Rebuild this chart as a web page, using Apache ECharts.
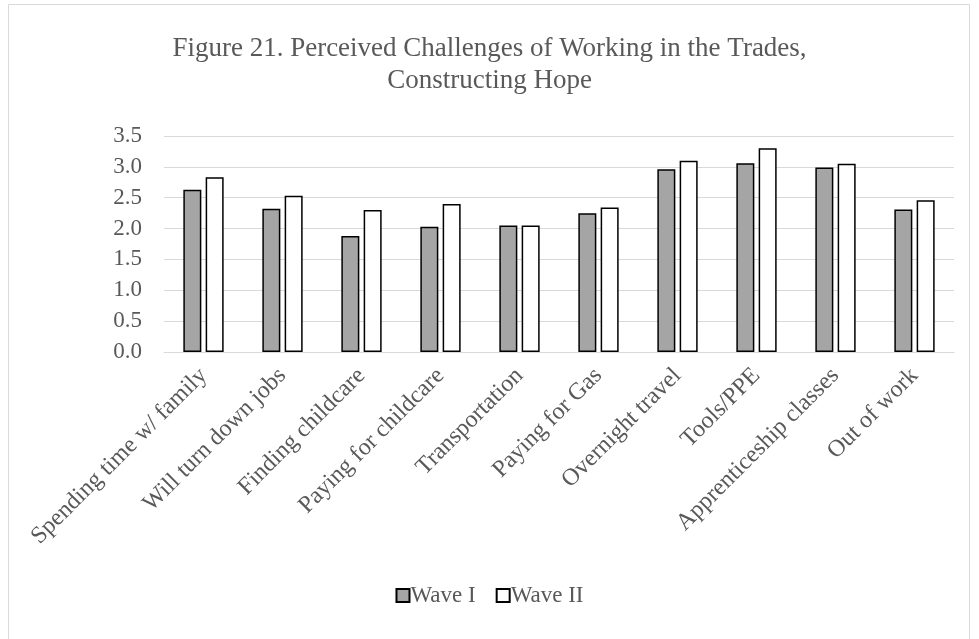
<!DOCTYPE html>
<html>
<head>
<meta charset="utf-8">
<title>Figure 21</title>
<script src="https://cdn.jsdelivr.net/npm/echarts@6/dist/echarts.min.js"></script>
<style>
  html, body { margin: 0; padding: 0; background: #fff; }
  #main { width: 979px; height: 639px; }
</style>
</head>
<body>
<div id="main"></div>
<script>
// categories along x
var categories = ['Spending time w/ family', 'Will turn down jobs', 'Finding childcare',
    'Paying for childcare', 'Transportation', 'Paying for Gas', 'Overnight travel',
    'Tools/PPE', 'Apprenticeship classes', 'Out of work'];
// mean ratings
var waveOne = [2.63, 2.32, 1.88, 2.03, 2.05, 2.25, 2.96, 3.06, 2.99, 2.31];
var waveTwo = [2.83, 2.53, 2.30, 2.40, 2.05, 2.34, 3.10, 3.30, 3.05, 2.46];
var seriesNames = ['Wave I', 'Wave II'];

var serif = '"Liberation Serif", "DejaVu Serif", serif';
var chart = echarts.init(document.getElementById('main'));

chart.setOption({
    animation: false,
    backgroundColor: '#fff',
    title: {
        text: 'Figure 21. Perceived Challenges of Working in the Trades,\nConstructing Hope',
        left: 'center',
        top: 28,
        textStyle: {
            fontFamily: serif,
            fontWeight: 'normal',
            fontSize: 27,
            color: '#595959',
            lineHeight: 32
        }
    },
    graphic: [{
        // light frame round the chart area
        type: 'rect',
        shape: {x: 8.5, y: 4.5, width: 961, height: 700},
        style: {fill: 'none', stroke: '#d9d9d9', lineWidth: 1},
        silent: true
    }],
    legend: {
        data: seriesNames,
        bottom: 27,
        left: 'center',
        itemWidth: 13,
        itemHeight: 13,
        itemGap: 20,
        icon: 'rect',
        textStyle: {fontFamily: serif, fontSize: 23, color: '#595959', padding: [0, 0, 0, -4]}
    },
    grid: {left: 164, right: 25, top: 136, bottom: 287},
    xAxis: {
        type: 'category',
        data: categories,
        axisLine: {lineStyle: {color: '#d9d9d9', width: 1}},
        axisTick: {show: false},
        axisLabel: {
            rotate: 45,
            interval: 0,
            margin: 20,
            fontFamily: serif,
            fontSize: 24,
            color: '#595959'
        }
    },
    yAxis: {
        type: 'value',
        min: 0,
        max: 3.5,
        interval: 0.5,
        axisLine: {show: false},
        axisTick: {show: false},
        splitLine: {lineStyle: {color: '#d9d9d9', width: 1}},
        axisLabel: {
            formatter: function (v) { return v.toFixed(1); },
            fontFamily: serif,
            fontSize: 23,
            color: '#595959',
            margin: 22
        }
    },
    series: [
        {
            name: seriesNames[0],
            type: 'bar',
            data: waveOne,
            barWidth: 18,
            barGap: '24%',
            itemStyle: {color: '#a5a5a5', borderColor: '#000', borderWidth: 1.5}
        },
        {
            name: seriesNames[1],
            type: 'bar',
            data: waveTwo,
            barWidth: 18,
            itemStyle: {color: '#fff', borderColor: '#000', borderWidth: 1.5}
        }
    ]
});
</script>
</body>
</html>
